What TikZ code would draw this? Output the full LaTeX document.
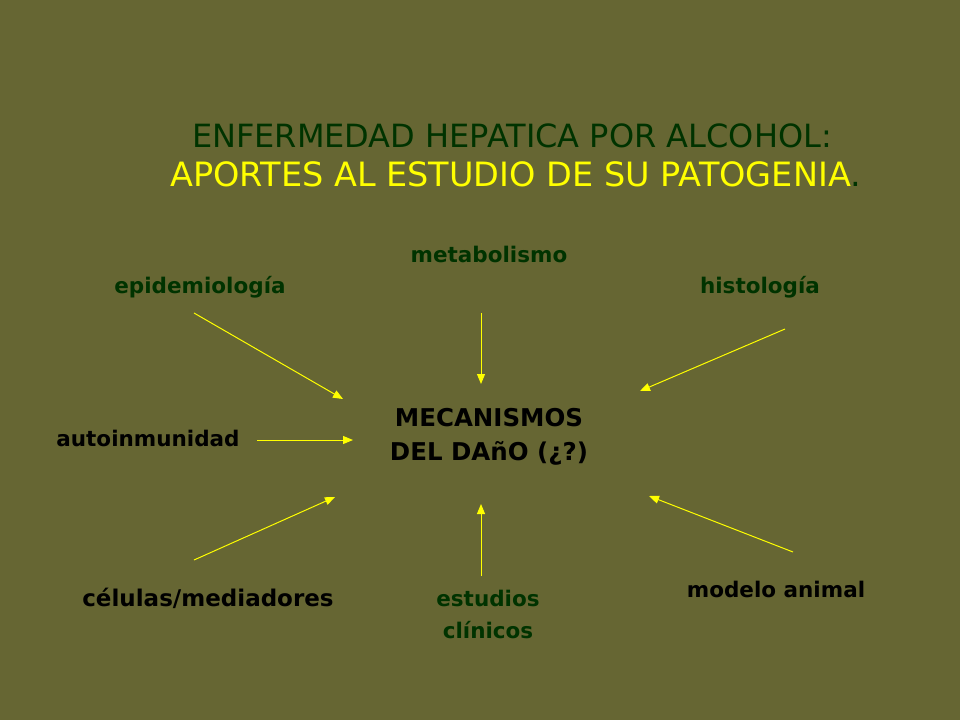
\documentclass[tikz,border=0pt]{standalone}
\usepackage{fontspec}
\setmainfont{DejaVu Sans}
\usetikzlibrary{arrows.meta}
\definecolor{bg}{HTML}{666633}
\definecolor{dkgreen}{HTML}{003300}
\definecolor{ylw}{HTML}{FFFF00}
\tikzset{
  lbl/.style={font=\fontsize{21.5}{26}\selectfont\bfseries, inner sep=0pt, align=center},
  ttl/.style={inner sep=0pt},
  arr/.style={draw=ylw, line width=1pt, -{Triangle[length=10pt,width=8pt]}}
}
\begin{document}
\begin{tikzpicture}[x=1pt,y=-1pt]
\fill[bg] (0,0) rectangle (960,720);
\useasboundingbox (0,0) rectangle (960,720);
\node[ttl, text=dkgreen, font=\fontsize{32}{36}\selectfont] (t1) at (512,136) {ENFERMEDAD HEPATICA POR ALCOHOL:};
\node[ttl, text=ylw, font=\fontsize{33.5}{38}\selectfont] (t2) at (516,174) {APORTES AL ESTUDIO DE SU PATOGENIA\textcolor{dkgreen}{.}};

\node[lbl, text=dkgreen] (meta) at (489,254) {metabolismo};
\node[lbl, text=dkgreen, font=\fontsize{21.5}{26}\selectfont\bfseries] (epi) at (200,287) {epidemiología};
\node[lbl, text=dkgreen] (hist) at (760,287) {histología};
\node[lbl, text=black] (auto) at (148,438) {autoinmunidad};
\node[lbl, text=black, font=\fontsize{24.5}{34}\selectfont\bfseries] (mec) at (489,437) {MECANISMOS\\DEL DAñO (¿?)};
\node[lbl, text=black, font=\fontsize{23}{26}\selectfont\bfseries] (cel) at (208,598) {células/mediadores};
\node[lbl, text=dkgreen, font=\fontsize{21.5}{32}\selectfont\bfseries] (est) at (488,614) {estudios\\clínicos};
\node[lbl, text=black] (mod) at (776,589) {modelo animal};

\coordinate (epiS) at (194,313);  \coordinate (epiE) at (343,399);
\coordinate (metaS) at (481,313); \coordinate (metaE) at (481,384);
\coordinate (histS) at (785,329); \coordinate (histE) at (640,391);
\coordinate (autoS) at (257,440); \coordinate (autoE) at (353,440);
\coordinate (celS) at (194,560);  \coordinate (celE) at (335,497);
\coordinate (estS) at (481,576);  \coordinate (estE) at (481,504);
\coordinate (modS) at (793,552);  \coordinate (modE) at (649,496);

\draw[arr] (epiS) -- (epiE);
\draw[arr] (metaS) -- (metaE);
\draw[arr] (histS) -- (histE);
\draw[arr] (autoS) -- (autoE);
\draw[arr] (celS) -- (celE);
\draw[arr] (estS) -- (estE);
\draw[arr] (modS) -- (modE);
\end{tikzpicture}
\end{document}
